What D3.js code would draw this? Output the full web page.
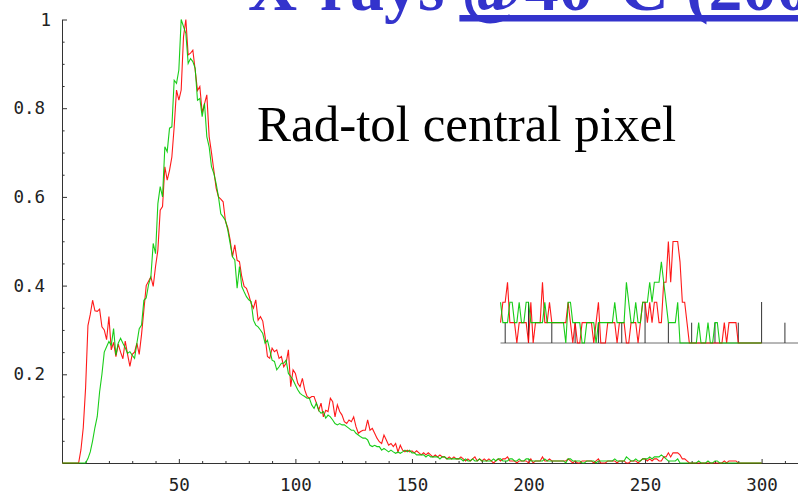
<!DOCTYPE html>
<html>
<head>
<meta charset="utf-8">
<script src="https://cdn.jsdelivr.net/npm/d3@7/dist/d3.min.js"></script>
<style>
  html, body { margin: 0; padding: 0; background: #fff; overflow: hidden; }
  svg { display: block; }
</style>
</head>
<body>
<svg id="chart" width="798" height="494"></svg>
<script>
// Normalised pulse-height spectra, one value per channel (0..300).
const redSeries = [
  0,0,0,0,0,0,0,0,
  .03,.08,.17,.31,.335,.367,.343,.342,.347,.307,.3,.278,.33,
  .255,.272,.24,.268,.25,.235,.275,.245,.218,.245,.25,.27,.245,.29,.345,.4,.41,.42,.398,.443,
  .48,.57,.578,.668,.638,.66,.69,.758,.841,.818,.841,.961,1,.92,.924,.931,.886,.84,.849,.79,
  .81,.83,.736,.7,.66,.62,.6,.595,.589,.545,.53,.503,.465,.492,.457,.454,.42,.398,.394,.379,
  .36,.349,.368,.322,.33,.32,.285,.24,.236,.259,.251,.255,.236,.24,.217,.225,.255,.172,.21,.202,
  .18,.172,.191,.165,.15,.146,.15,.15,.135,.119,.135,.104,.119,.116,.146,.138,.104,.131,.116,.108,
  .093,.089,.097,.093,.104,.082,.067,.071,.074,.074,.097,.074,.078,.067,.056,.048,.044,.063,.052,.04,
  .044,.037,.044,.025,.04,.029,.025,.029,.025,
  .0275,.0229,.0275,.0229,.0183,.0229,.0183,.0229,.0183,.0137,
  .0183,.0137,.0183,.0137,.0137,.0092,.0137,.0092,.0137,.0092,
  .0092,.0137,.0092,.0046,.0092,.0046,.0092,.0137,.0046,.0092,
  .0046,.0092,.0046,.0092,.0046,0,.0046,.0092,
  .0046,.0092,.0092,.0137,.0046,.0046,.0046,0,.0046,.0046,
  .0046,.0046,0,.0092,0,.0046,.0046,.0046,.0137,.0046,
  .0046,.0092,.0046,.0046,.0046,.0046,.0046,.0046,.0046,.0092,
  .0046,0,.0046,0,0,.0046,.0046,.0046,.0046,.0046,
  0,.0046,.0092,0,0,0,.0046,.0046,.0046,.0046,
  0,.0046,.0046,.0046,0,0,.0046,.0046,.0046,0,
  .0046,.0092,.0092,.0046,.0092,.0046,.0092,.0092,.0046,.0046,
  .0137,.0137,.0229,.0137,.0229,.0229,.0229,.0183,.0092,.0092,
  .0046,0,0,0,0,0,0,0,0,0,
  0,0,0,0,0,0,.0046,0,.0046,.0046,
  .0046,.0046,0,0,0,0,0,0,0,0,0,0,0
];

const greenSeries = [
  0,0,0,0,0,0,0,0,0,0,0,
  .01,.025,.05,.08,.105,.16,.2,.25,.262,.274,
  .265,.303,.243,.27,.281,.27,.26,.247,.251,.243,.236,.27,.303,.311,.367,.372,.402,.42,.495,.472,
  .585,.623,.6,.713,.702,.755,.758,.863,.856,.886,1,.984,.969,.901,.912,.905,.89,.818,.822,.781,
  .811,.736,.713,.668,.653,.63,.6,.562,.555,.547,
  .525,.495,.465,.458,.394,.443,.398,.386,.375,.368,
  .364,.322,.311,.307,.3,.292,.27,.277,.255,.232,
  .229,.21,.217,.225,.225,.232,.202,.195,.187,.176,
  .165,.157,.153,.15,.146,.146,.131,.123,.135,.119,
  .112,.116,.101,.108,.104,.097,.089,.086,.089,.086,
  .086,.082,.078,.074,.074,.067,.063,.059,.056,.056,
  .052,.04,.037,.04,.037,.037,.029,.033,.029,.025,
  .029,.025,.022,.025,.022,.025,.029,.025,.029,
  .0229,.0229,.0183,.0183,.0183,.0183,.0137,.0183,.0137,.0137,
  .0137,.0137,.0092,.0137,.0137,.0092,.0092,.0092,.0092,.0092,
  .0092,.0092,.0046,.0092,.0046,.0046,.0092,.0046,.0046,.0092,
  .0046,.0046,.0046,.0046,.0046,.0092,.0046,.0092,
  .0092,.0046,.0046,.0046,.0092,.0092,.0046,.0046,.0092,.0046,
  .0046,.0092,.0092,.0046,.0046,.0046,.0046,.0046,.0046,.0092,
  .0046,.0046,.0046,.0046,.0046,.0046,.0046,.0046,0,.0092,
  .0092,.0046,.0046,.0046,.0046,0,0,.0046,.0046,.0046,
  .0046,0,.0046,.0046,.0046,.0046,.0046,.0046,.0046,.0092,
  .0046,.0046,.0046,.0046,.0137,.0092,.0046,.0046,.0092,.0046,
  .0046,.0092,.0092,.0092,.0137,.0092,.0137,.0137,.0137,.0183,
  .0137,.0092,.0046,.0046,.0046,.0046,.0092,0,0,0,
  0,0,0,0,0,.0046,0,0,0,.0046,
  0,0,.0046,.0046,0,0,0,0,0,0,
  0,0,0,0,0,0,0,0,0,0,0,0,0
];

const xMajorTicks = [50, 100, 150, 200, 250, 300];
const xMinorTicks = [10, 20, 30, 40, 60, 70, 80, 90, 110, 120, 130, 140, 160, 170, 180, 190,
                     210, 220, 230, 240, 260, 270, 280, 290, 310];
const yMajorTicks = [0.2, 0.4, 0.6, 0.8, 1];
const yMinorTicks = [0.05, 0.1, 0.15, 0.25, 0.3, 0.35, 0.45, 0.5, 0.55, 0.65, 0.7, 0.75, 0.85, 0.9, 0.95];
const yTickLabels = ["0.2", "0.4", "0.6", "0.8", "1"];

// Magnified view of the tail: channels from 188 on, y stretched ten times.
const zoomStart = 188;
const zoomMajorTicks = [200, 250, 300];
const zoomMinorTicks = [190, 210, 220, 230, 240, 260, 270, 280, 290, 310];

const headerPrefix = "X-rays ";
const headerLink = "@40°C (2004)";
const titleText = "Rad-tol central pixel";

const svg = d3.select("#chart");
svg.append("rect").attr("width", 798).attr("height", 494).attr("fill", "#fff");

const x = d3.scaleLinear().domain([0, 320]).range([62.3, 62.3 + 2.331 * 320]);
const y = d3.scaleLinear().domain([0, 1]).range([463, 19.5]);
const yZoom = d3.scaleLinear().domain([0, 0.1]).range([343, 343 - 443.5]);

const axisColor = "#333";
const monoFont = "'DejaVu Sans Mono', monospace";

// ---- x axis: minor then major ticks (pointing into the plot)
const gx = svg.append("g").attr("transform", "translate(0,463)");
gx.call(d3.axisBottom(x).tickValues(xMinorTicks).tickSizeInner(-2).tickSizeOuter(0).tickFormat(""));
const gxMaj = svg.append("g").attr("transform", "translate(0,463)");
gxMaj.call(d3.axisBottom(x).tickValues(xMajorTicks).tickSizeInner(-4).tickSizeOuter(0)
  .tickPadding(16).tickFormat(d3.format("d")));
gxMaj.select(".domain").remove();

// ---- y axis
const gy = svg.append("g").attr("transform", "translate(62,0)");
gy.call(d3.axisLeft(y).tickValues(yMinorTicks).tickSizeInner(-2.6).tickSizeOuter(0).tickFormat(""));
const gyMaj = svg.append("g").attr("transform", "translate(62,0)");
gyMaj.call(d3.axisLeft(y).tickValues(yMajorTicks).tickSizeInner(-5).tickSizeOuter(0)
  .tickPadding(17).tickFormat((d, i) => yTickLabels[i]));
gyMaj.select(".domain").remove();
gyMaj.selectAll(".tick text").filter(d => d === 1).attr("x", -11);

svg.selectAll(".domain, .tick line").attr("stroke", axisColor).attr("stroke-width", 1);
svg.selectAll(".tick text")
  .attr("fill", "#222")
  .style("font-family", monoFont)
  .style("font-size", "17.5px");

// ---- magnified tail: baseline and its ticks
const zoomLayer = svg.append("g");
zoomLayer.append("line")
  .attr("x1", x(zoomStart)).attr("x2", x(320))
  .attr("y1", yZoom(0)).attr("y2", yZoom(0))
  .attr("stroke", "#6e6e6e").attr("stroke-width", 1);
zoomLayer.selectAll("line.zmaj").data(zoomMajorTicks).join("line")
  .attr("class", "zmaj")
  .attr("x1", d => x(d)).attr("x2", d => x(d))
  .attr("y1", yZoom(0)).attr("y2", yZoom(0) - 41)
  .attr("stroke", "#333").attr("stroke-width", 1);
zoomLayer.selectAll("line.zmin").data(zoomMinorTicks).join("line")
  .attr("class", "zmin")
  .attr("x1", d => x(d)).attr("x2", d => x(d))
  .attr("y1", yZoom(0)).attr("y2", yZoom(0) - 20.3)
  .attr("stroke", "#333").attr("stroke-width", 1);

const indexed = arr => arr.map((v, i) => [i, v]);
const mainLine = d3.line().x(d => x(d[0])).y(d => y(d[1]));
const zoomLine = d3.line().x(d => x(d[0])).y(d => yZoom(d[1]));

const series = [
  { values: redSeries, color: "#ff0000" },
  { values: greenSeries, color: "#00c800" }
];

series.forEach(s => {
  zoomLayer.append("path")
    .attr("d", zoomLine(indexed(s.values).filter(d => d[0] >= zoomStart)))
    .attr("fill", "none").attr("stroke", s.color).attr("stroke-width", 1.1)
    .attr("stroke-linejoin", "miter").attr("stroke-opacity", 0.9);
});

series.forEach(s => {
  svg.append("path")
    .attr("d", mainLine(indexed(s.values)))
    .attr("fill", "none").attr("stroke", s.color).attr("stroke-width", 1.1)
    .attr("stroke-linejoin", "miter").attr("stroke-opacity", 0.9);
});

// ---- header (runs off the top edge) and title
const header = svg.append("text")
  .attr("x", 248).attr("y", 10)
  .attr("fill", "#3333cc")
  .style("font-family", "'Liberation Serif', 'Times New Roman', serif")
  .style("font-weight", "bold")
  .style("font-size", "68px");
const pre = header.append("tspan").text(headerPrefix);
header.append("tspan").text(headerLink);
const preWidth = pre.node().getComputedTextLength();
svg.append("rect")
  .attr("x", 248 + preWidth - 2).attr("y", 15)
  .attr("width", 798 - (248 + preWidth - 2)).attr("height", 6.5)
  .attr("fill", "#3333cc");

svg.append("text")
  .attr("x", 257).attr("y", 141)
  .attr("fill", "#000")
  .style("font-family", "'Liberation Serif', 'Times New Roman', serif")
  .style("font-size", "51px")
  .text(titleText);
</script>
</body>
</html>
